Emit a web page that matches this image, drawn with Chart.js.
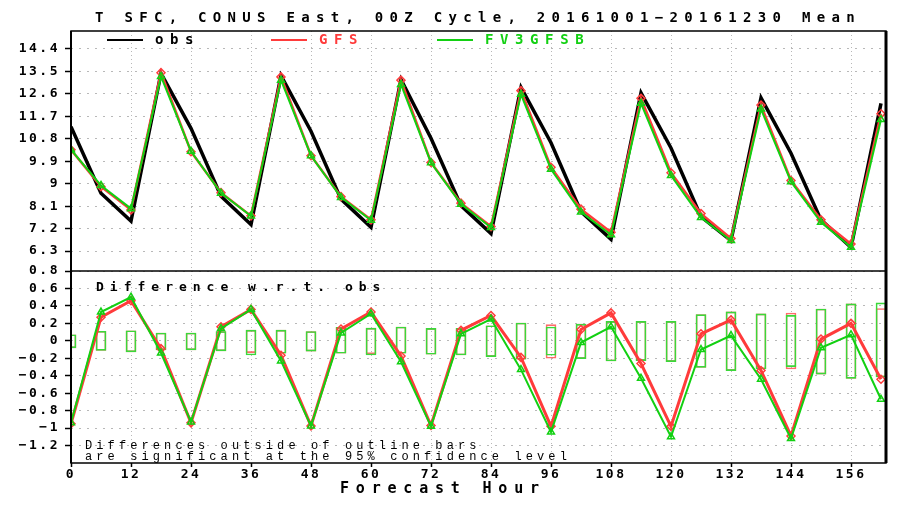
<!DOCTYPE html>
<html lang="en">
<head>
<meta charset="UTF-8">
<title>T SFC, CONUS East, 00Z Cycle</title>
<script src="https://cdn.jsdelivr.net/npm/chart.js"></script>
<style>
  * { margin: 0; padding: 0; box-sizing: border-box; }
  body { background: #fff; width: 903px; height: 505px; overflow: hidden; }
  #wrap { position: relative; width: 903px; height: 505px; }
</style>
</head>
<body>
<div id="wrap"><canvas id="chart" width="903" height="505"></canvas></div>
<script>
// forecast hours
const hours = [0, 6, 12, 18, 24, 30, 36, 42, 48, 54, 60, 66, 72, 78, 84, 90, 96, 102, 108, 114, 120, 126, 132, 138, 144, 150, 156, 162];

// top panel: mean 2m temperature
const obsT = [11.28, 8.62, 7.5, 13.42, 11.22, 8.5, 7.36, 13.33, 11.1, 8.38, 7.25, 13.18, 10.82, 8.12, 7.0, 12.86, 10.64, 7.88, 6.77, 12.64, 10.43, 7.68, 6.72, 12.44, 10.22, 7.55, 6.45, 12.22];
const gfsT = [10.36, 8.88, 7.95, 13.45, 10.28, 8.64, 7.71, 13.28, 10.12, 8.48, 7.55, 13.15, 9.85, 8.22, 7.28, 12.73, 9.66, 7.98, 7.05, 12.42, 9.44, 7.8, 6.8, 12.15, 9.13, 7.55, 6.58, 11.8];
const fv3T = [10.36, 8.93, 8.0, 13.3, 10.3, 8.62, 7.7, 13.15, 10.12, 8.45, 7.53, 12.98, 9.84, 8.18, 7.24, 12.58, 9.58, 7.86, 6.95, 12.22, 9.33, 7.64, 6.72, 11.99, 9.08, 7.45, 6.45, 11.57];

// bottom panel: difference w.r.t. obs
const gfsD = [-0.95, 0.27, 0.46, -0.09, -0.94, 0.16, 0.36, -0.165, -0.975, 0.135, 0.33, -0.175, -0.97, 0.12, 0.29, -0.19, -0.98, 0.13, 0.32, -0.26, -0.98, 0.08, 0.24, -0.34, -1.09, 0.02, 0.2, -0.44];
const fv3D = [-0.94, 0.33, 0.5, -0.14, -0.93, 0.14, 0.36, -0.23, -0.975, 0.09, 0.31, -0.24, -0.98, 0.08, 0.25, -0.33, -1.045, -0.02, 0.16, -0.43, -1.1, -0.1, 0.06, -0.44, -1.12, -0.08, 0.07, -0.67];

// 95% confidence outline bars
const gfsHi = [0.07, 0.11, 0.115, 0.09, 0.09, 0.107, 0.123, 0.123, 0.107, 0.154, 0.146, 0.158, 0.142, 0.142, 0.173, 0.204, 0.185, 0.192, 0.223, 0.223, 0.223, 0.3, 0.331, 0.308, 0.319, 0.365, 0.423, 0.37];
const gfsLo = [-0.08, -0.11, -0.127, -0.104, -0.104, -0.115, -0.135, -0.142, -0.119, -0.142, -0.15, -0.142, -0.154, -0.162, -0.181, -0.211, -0.2, -0.204, -0.231, -0.227, -0.238, -0.304, -0.342, -0.323, -0.323, -0.381, -0.431, -0.415];
const fv3Hi = [0.07, 0.11, 0.115, 0.09, 0.09, 0.107, 0.123, 0.123, 0.107, 0.154, 0.146, 0.158, 0.142, 0.142, 0.173, 0.204, 0.158, 0.192, 0.223, 0.223, 0.223, 0.3, 0.331, 0.308, 0.292, 0.365, 0.423, 0.435];
const fv3Lo = [-0.08, -0.11, -0.127, -0.104, -0.104, -0.115, -0.162, -0.142, -0.119, -0.142, -0.162, -0.142, -0.154, -0.162, -0.181, -0.211, -0.165, -0.204, -0.231, -0.227, -0.238, -0.304, -0.342, -0.323, -0.296, -0.381, -0.431, -0.415];

// tick labels
const xTicks = [0, 12, 24, 36, 48, 60, 72, 84, 96, 108, 120, 132, 144, 156];
const tTicks = [6.3, 7.2, 8.1, 9, 9.9, 10.8, 11.7, 12.6, 13.5, 14.4];
const dTicks = [-1.2, -1, -0.8, -0.6, -0.4, -0.2, 0, 0.2, 0.4, 0.6, 0.8];

const MONO = "'DejaVu Sans Mono', monospace";
const RED = '#ff3b3b';
const GREEN = '#12d012';
const tickFont = { family: MONO, weight: 'bold', size: 13 };

const pts = (arr) => hours.map((h, i) => ({ x: h, y: arr[i] }));
const bars = (lo, hi) => hours.map((h, i) => ({ x: h, y: [lo[i], hi[i]] }));
const fmt = (v) => {
    const s = String(+Number(v).toFixed(1));
    return v < 0 ? '\u2212' + s.slice(1) : s;
};

const grid = (len) => ({
    color: '#b8b8b8', lineWidth: 1,
    tickColor: '#000', tickBorderDash: [], tickWidth: 1.5, tickLength: len
});

function txt(ctx, s, x, y, font, color, spacing, align) {
    ctx.font = font;
    ctx.fillStyle = color;
    ctx.letterSpacing = spacing;
    ctx.textAlign = align || 'left';
    ctx.textBaseline = 'middle';
    ctx.fillText(s, x, y);
}

const decor = {
    id: 'decor',
    beforeDraw(chart) { chart.ctx.letterSpacing = '2.5px'; },
    afterDatasetsDraw(chart) {
        const { ctx, chartArea: a, scales } = chart;
        ctx.save();
        ctx.strokeStyle = '#000';
        ctx.lineWidth = 1.5;
        ctx.strokeRect(a.left, a.top, a.right - a.left, a.bottom - a.top);
        ctx.beginPath();
        ctx.lineWidth = 3;
        ctx.moveTo(a.right, a.top); ctx.lineTo(a.right, a.bottom);
        ctx.stroke();
        ctx.beginPath();
        ctx.lineWidth = 2;
        ctx.moveTo(a.left, a.top); ctx.lineTo(a.left, a.bottom);
        ctx.stroke();
        ctx.beginPath();
        ctx.lineWidth = 1.5;
        ctx.moveTo(a.left, scales.yD.top); ctx.lineTo(a.right, scales.yD.top);
        ctx.stroke();
        ctx.restore();
    },
    afterDraw(chart) {
        const ctx = chart.ctx;
        ctx.save();
        const big = `bold 14px ${MONO}`;
        txt(ctx, 'T SFC, CONUS East, 00Z Cycle, 20161001\u221220161230 Mean', 95, 18, big, '#000', '6.3px');

        // legend inside top panel
        const leg = [['obs', '#000', 107], ['GFS', RED, 271], ['FV3GFSB', GREEN, 437]];
        leg.forEach(([name, col, x]) => {
            ctx.beginPath();
            ctx.strokeStyle = col;
            ctx.lineWidth = 2;
            ctx.moveTo(x, 40); ctx.lineTo(x + 36, 40);
            ctx.stroke();
            txt(ctx, name, x + 48, 40, big, col, '6.6px');
        });

        txt(ctx, 'Difference w.r.t. obs', 96, 288, `bold 13px ${MONO}`, '#000', '6px');
        const small = "12px 'Liberation Mono', monospace";
        txt(ctx, 'Differences outside of outline bars', 85, 446, small, '#000', '4.1px');
        txt(ctx, 'are significant at the 95% confidence level', 85, 457, small, '#000', '4.1px');

        txt(ctx, 'Forecast Hour', 340, 489, `bold 15px ${MONO}`, '#000', '6.8px');
        ctx.restore();
    }
};

new Chart(document.getElementById('chart'), {
    type: 'line',
    data: {
        datasets: [
            { type: 'bar', label: 'GFS sig', data: bars(gfsLo, gfsHi), yAxisID: 'yD',
              backgroundColor: 'rgba(0,0,0,0)', borderColor: '#ff6a6a', borderWidth: 1,
              borderSkipped: false, barThickness: 10, grouped: false, order: 6 },
            { type: 'bar', label: 'FV3GFSB sig', data: bars(fv3Lo, fv3Hi), yAxisID: 'yD',
              backgroundColor: 'rgba(0,0,0,0)', borderColor: '#3ad83a', borderWidth: 1,
              borderSkipped: false, barThickness: 10, grouped: false, order: 5 },
            { label: 'obs', data: pts(obsT), yAxisID: 'yT', borderColor: '#000',
              borderWidth: 3.5, pointRadius: 0, tension: 0, order: 3 },
            { label: 'GFS', data: pts(gfsT), yAxisID: 'yT', borderColor: RED, borderWidth: 2.5,
              pointStyle: 'rectRot', pointRadius: 4, pointBorderWidth: 1.5,
              pointBackgroundColor: 'rgba(0,0,0,0)', pointBorderColor: RED, tension: 0, order: 2 },
            { label: 'FV3GFSB', data: pts(fv3T), yAxisID: 'yT', borderColor: GREEN, borderWidth: 2,
              pointStyle: 'triangle', pointRadius: 4, pointBorderWidth: 1.5,
              pointBackgroundColor: 'rgba(0,0,0,0)', pointBorderColor: GREEN, tension: 0, order: 1 },
            { label: 'GFS diff', data: pts(gfsD), yAxisID: 'yD', borderColor: RED, borderWidth: 3,
              pointStyle: 'rectRot', pointRadius: 4, pointBorderWidth: 1.5,
              pointBackgroundColor: 'rgba(0,0,0,0)', pointBorderColor: RED, tension: 0, order: 2 },
            { label: 'FV3GFSB diff', data: pts(fv3D), yAxisID: 'yD', borderColor: GREEN, borderWidth: 2,
              pointStyle: 'triangle', pointRadius: 4, pointBorderWidth: 1.5,
              pointBackgroundColor: 'rgba(0,0,0,0)', pointBorderColor: GREEN, tension: 0, order: 1 }
        ]
    },
    options: {
        responsive: false,
        animation: false,
        events: [],
        layout: { padding: { top: 31, right: 17, left: 0, bottom: 0 } },
        plugins: { legend: { display: false }, title: { display: false }, tooltip: { enabled: false } },
        scales: {
            x: {
                type: 'linear', min: 0, max: 163, offset: false,
                grid: { ...grid(4), offset: false },
                border: { display: false, dash: [1, 3] },
                afterBuildTicks: (s) => { s.ticks = xTicks.map(v => ({ value: v })); },
                afterFit: (s) => { s.height = 42; },
                ticks: { font: tickFont, color: '#000', padding: 0, maxRotation: 0, autoSkip: false }
            },
            yD: {
                type: 'linear', position: 'left', stack: 'panels', stackWeight: 192,
                min: -1.4, max: 0.8,
                grid: grid(6),
                border: { display: false, dash: [2, 6] },
                afterBuildTicks: (s) => { s.ticks = dTicks.map(v => ({ value: v })); },
                afterFit: (s) => { s.width = 71; },
                ticks: { font: tickFont, color: '#000', padding: 5, autoSkip: false, callback: fmt }
            },
            yT: {
                type: 'linear', position: 'left', stack: 'panels', stackWeight: 240,
                min: 5.5, max: 15.12,
                grid: grid(6),
                border: { display: false, dash: [2, 6] },
                afterBuildTicks: (s) => { s.ticks = tTicks.map(v => ({ value: v })); },
                afterFit: (s) => { s.width = 71; },
                ticks: { font: tickFont, color: '#000', padding: 5, autoSkip: false, callback: fmt }
            }
        }
    },
    plugins: [decor]
});
</script>
</body>
</html>
